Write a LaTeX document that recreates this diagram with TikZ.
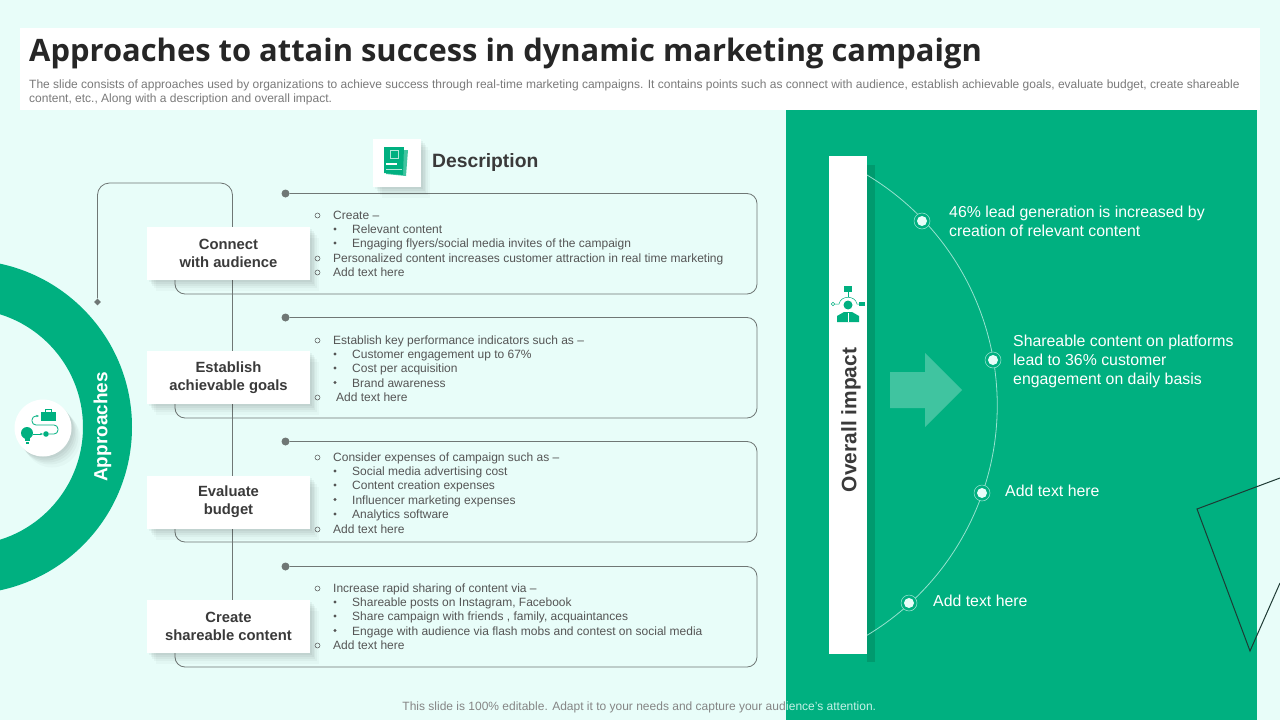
\documentclass[tikz,border=0pt]{standalone}
\usepackage{fontspec}
\setmainfont{Liberation Sans}
\newfontfamily\titlefont{Open Sans}
\usetikzlibrary{shadows,shapes.geometric,arrows.meta}
\definecolor{pagebg}{HTML}{E8FDF9}
\definecolor{brandgreen}{HTML}{00B080}
\definecolor{darkgreen}{HTML}{009A6E}
\definecolor{palegreen}{HTML}{40C4A0}
\definecolor{inkgrey}{HTML}{3A3A3A}
\definecolor{bodygrey}{HTML}{555555}
\definecolor{linegrey}{HTML}{6F7775}
\definecolor{outlinedark}{HTML}{1E3A34}
\tikzset{
  softshadow/.style={preaction={fill=black,opacity=.025,transform canvas={xshift=9pt,yshift=-11pt}},
    preaction={fill=black,opacity=.03,transform canvas={xshift=7pt,yshift=-8pt}},
    preaction={fill=black,opacity=.035,transform canvas={xshift=5pt,yshift=-6pt}},
    preaction={fill=black,opacity=.04,transform canvas={xshift=3.5pt,yshift=-4pt}},
    preaction={fill=black,opacity=.04,transform canvas={xshift=2pt,yshift=-2pt}}},
  approachbox/.style={fill=white,softshadow,minimum width=163pt,minimum height=53pt,inner sep=0pt,align=center,
    font=\fontsize{14.8}{18}\selectfont\bfseries,text=inkgrey},
  flatline/.style={anchor=west,inner sep=0pt,text height=11pt,text depth=3pt,font=\fontsize{12}{14}\selectfont},
  bodyline/.style={flatline,yshift=-0.7pt,text=bodygrey},
  introline/.style={flatline,text=black!52},
  openmark/.style={circle,draw=bodygrey,line width=0.5pt,inner sep=0pt,minimum size=5pt},
  solidmark/.style={circle,fill=bodygrey,inner sep=0pt,minimum size=3.2pt},
  framedot/.style={circle,fill=linegrey,inner sep=0pt,minimum size=8pt},
  frameline/.style={draw=linegrey,line width=0.8pt,rounded corners=10pt},
  impactline/.style={anchor=west,inner sep=0pt,align=left,text=white,font=\fontsize{15.85}{19.2}\selectfont},
  arcdot/.style={circle,fill=pagebg,inner sep=0pt,minimum size=10pt},
  arcring/.style={circle,draw=pagebg!70!brandgreen,line width=0.5pt,inner sep=0pt,minimum size=16pt},
}
\begin{document}
\begin{tikzpicture}[x=1pt,y=-1pt]
\useasboundingbox (0,0) rectangle (1280,720);
\fill[pagebg] (0,0) rectangle (1280,720);
% right panel
\fill[brandgreen] (786,110) rectangle (1257,720);
\begin{scope}
\clip (0,0) rectangle (1280,720);
\draw[outlinedark, line width=1pt] (1280,478) -- (1197,509) -- (1250,651) -- (1280,583);
\fill[brandgreen, even odd rule] (-35,427) circle[radius=167] (-35,427) circle[radius=118];
\end{scope}
% title band
\fill[white] (20,28) rectangle (1260,110);
\node[anchor=west, inner sep=0pt, font=\titlefont\fontsize{30.9}{36}\selectfont\bfseries, text=black!85] (title) at (29,53.5) {Approaches to attain success in dynamic marketing campaign};
\node[introline] (intro1) at (29,84) {The slide consists of approaches used by organizations to achieve success through real-time marketing campaigns. It contains points such as connect with audience, establish achievable goals, evaluate budget, create shareable};
\node[introline] (intro2) at (29,98) {content, etc., Along with a description and overall impact.};
% loop behind the boxes
\node[diamond, fill=linegrey, inner sep=0pt, minimum size=7pt] (loopend) at (97.5,302) {};
\coordinate (spinetop) at (232.5,183);
\coordinate (spinebot) at (232.5,600);
\draw[draw=linegrey, line width=0.8pt, rounded corners=12pt] (spinebot) -- (spinetop) -| (loopend);
% description frames
\node[framedot] (dot1) at (285.5,193.5) {};
\node[framedot] (dot2) at (285.5,317.5) {};
\node[framedot] (dot3) at (285.5,441.5) {};
\node[framedot] (dot4) at (285.5,566.5) {};
\coordinate (fr1) at (757,193.5); \coordinate (fl1) at (175,294);
\coordinate (fr2) at (757,317.5); \coordinate (fl2) at (175,418);
\coordinate (fr3) at (757,441.5); \coordinate (fl3) at (175,542);
\coordinate (fr4) at (757,566.5); \coordinate (fl4) at (175,667);
\draw[frameline] (dot1) -- (fr1) |- (fl1) -- (175,270);
\draw[frameline] (dot2) -- (fr2) |- (fl2) -- (175,394);
\draw[frameline] (dot3) -- (fr3) |- (fl3) -- (175,518);
\draw[frameline] (dot4) -- (fr4) |- (fl4) -- (175,642);
% approach boxes
\node[approachbox] (connect) at (228.5,253.5) {Connect\\with audience};
\node[approachbox] (establish) at (228.5,377.5) {Establish\\achievable goals};
\node[approachbox] (evaluate) at (228.5,502) {Evaluate\\budget};
\node[approachbox] (create) at (228.5,626) {Create\\shareable content};
% heading
\node[fill=white, softshadow, minimum width=48pt, minimum height=48pt, inner sep=0pt] (docbox) at (397,162.5) {};
\fill[brandgreen!75] (390,150) -- (408,150) -- (406,176) -- (386,174) -- cycle;
\fill[brandgreen] (384,147) -- (404,147) -- (403,175) -- (384,173) -- cycle;
\draw[white!70!brandgreen, line width=0.5pt] (390,150) rectangle (398,158);
\fill[white] (386,163) rectangle (397,165);
\draw[white!70!brandgreen, line width=0.5pt] (386,169) -- (402,169);
\node[anchor=west, inner sep=0pt, font=\fontsize{19.3}{24}\selectfont\bfseries, text=inkgrey] (description) at (432,163) {Description};
% first list
\node[openmark] (m11) at (317.5,215.5) {}; \node[bodyline] at (333,214.5) {Create --};
\node[solidmark] (m12) at (335,229) {}; \node[bodyline] at (352,229) {Relevant content};
\node[solidmark] (m13) at (335,243) {}; \node[bodyline] at (352,243) {Engaging flyers/social media invites of the campaign};
\node[openmark] (m14) at (317.5,258.5) {}; \node[bodyline] at (333,257.5) {Personalized content increases customer attraction in real time marketing};
\node[openmark] (m15) at (317.5,272.5) {}; \node[bodyline] at (333,271.5) {Add text here};
% second list
\node[openmark] (m21) at (317.5,340.5) {}; \node[bodyline] at (333,339.5) {Establish key performance indicators such as --};
\node[solidmark] (m22) at (335,354) {}; \node[bodyline] at (352,354) {Customer engagement up to 67\%};
\node[solidmark] (m23) at (335,368) {}; \node[bodyline] at (352,368) {Cost per acquisition};
\node[solidmark] (m24) at (335,382.5) {}; \node[bodyline] at (352,382.5) {Brand awareness};
\node[openmark] (m25) at (317.5,397.5) {}; \node[bodyline] at (336,396.5) {Add text here};
% third list
\node[openmark] (m31) at (317.5,457.5) {}; \node[bodyline] at (333,456.5) {Consider expenses of campaign such as --};
\node[solidmark] (m32) at (335,471) {}; \node[bodyline] at (352,471) {Social media advertising cost};
\node[solidmark] (m33) at (335,485) {}; \node[bodyline] at (352,485) {Content creation expenses};
\node[solidmark] (m34) at (335,499.5) {}; \node[bodyline] at (352,499.5) {Influencer marketing expenses};
\node[solidmark] (m35) at (335,514) {}; \node[bodyline] at (352,514) {Analytics software};
\node[openmark] (m36) at (317.5,529.5) {}; \node[bodyline] at (333,528.5) {Add text here};
% fourth list
\node[openmark] (m41) at (317.5,588.5) {}; \node[bodyline] at (333,587.5) {Increase rapid sharing of content via --};
\node[solidmark] (m42) at (335,602) {}; \node[bodyline] at (352,602) {Shareable posts on Instagram, Facebook};
\node[solidmark] (m43) at (335,616) {}; \node[bodyline] at (352,616) {Share campaign with friends , family, acquaintances};
\node[solidmark] (m44) at (335,630.5) {}; \node[bodyline] at (352,630.5) {Engage with audience via flash mobs and contest on social media};
\node[openmark] (m45) at (317.5,645.5) {}; \node[bodyline] at (333,644.5) {Add text here};
% left ring label and icon
\node[rotate=90, inner sep=0pt, font=\fontsize{19}{24}\selectfont\bfseries, text=white] (approaches) at (102.5,427) {Approaches};
\node[circle, fill=white, softshadow, minimum size=57pt, inner sep=0pt] (bulbcircle) at (43,428) {};
\fill[brandgreen] (27,433) circle[radius=6];
\fill[brandgreen] (24.5,437) rectangle (29.5,441);
\fill[brandgreen] (25.5,442) rectangle (28.5,444);
\fill[brandgreen] (41,411.5) rectangle (56,420.5);
\draw[brandgreen, line width=0.8pt] (45.5,411.5) -- (45.5,409.5) -- (51.5,409.5) -- (51.5,411.5);
\fill[brandgreen] (46,434) circle[radius=2.8];
\draw[brandgreen, line width=0.8pt, -{Stealth[length=3pt]}] (33,434) -- (43,434);
\draw[brandgreen, line width=0.8pt, -{Stealth[length=3pt]}, rounded corners=4pt] (49,434) -- (58,434) -- (58,425) -- (32,425) -- (32,416) -- (39,416);
% overall impact bar
\fill[darkgreen] (867,165) rectangle (875,662);
\fill[white] (829,156) rectangle (867,654);
\node[rotate=90, inner sep=0pt, font=\fontsize{20.9}{24}\selectfont\bfseries, text=inkgrey] (impact) at (851,420) {Overall impact};
% person icon
\fill[brandgreen] (848,305) circle[radius=4.5];
\fill[brandgreen] (837,322) -- (837,316) -- (844,312) -- (852,312) -- (859,316) -- (859,322) -- cycle;
\fill[white] (847.5,313) rectangle (848.5,322);
\fill[brandgreen] (844,286) rectangle (852,292);
\fill[brandgreen] (859,302) rectangle (864.5,306);
\draw[brandgreen, line width=0.5pt] (833,304) circle[radius=1.8];
\draw[brandgreen, line width=0.5pt] (835,304) -- (839,304) .. controls (841,295) and (855,295) .. (857,304) -- (859,304);
\draw[brandgreen, line width=0.5pt] (848,292) -- (848,297);
% arc on the panel
\coordinate (arcstart) at (867,175);
\draw[pagebg!65!brandgreen, line width=0.8pt] (arcstart) arc[start angle=-59, end angle=59, radius=268.5];
\node[arcring, fill=brandgreen] (ring1) at (922,221) {};
\node[arcring, fill=brandgreen] (ring2) at (993,360) {};
\node[arcring, fill=brandgreen] (ring3) at (982,493) {};
\node[arcring, fill=brandgreen] (ring4) at (909,603) {};
\node[arcdot] (pt1) at (ring1) {};
\node[arcdot] (pt2) at (ring2) {};
\node[arcdot] (pt3) at (ring3) {};
\node[arcdot] (pt4) at (ring4) {};
\fill[palegreen] (890,372) -- (925,372) -- (925,353) -- (962,390) -- (925,427) -- (925,408) -- (890,408) -- cycle;
\node[impactline] (lead) at (949,221) {46\% lead generation is increased by\\creation of relevant content};
\node[impactline] (share) at (1013,361.5) {Shareable content on platforms\\lead to 36\% customer\\engagement on daily basis};
\node[impactline] (addc) at (1005,490.5) {Add text here};
\node[impactline] (addd) at (933,600.5) {Add text here};
% footer
\node[flatline, anchor=east, text=black!48] (footer) at (786,706) {This slide is 100\% editable. Adapt it to your needs and capture your aud};
\node[flatline, text=pagebg!85!brandgreen] (footerend) at (footer.east) {ience{\char"27}s attention.};
\end{tikzpicture}
\end{document}
